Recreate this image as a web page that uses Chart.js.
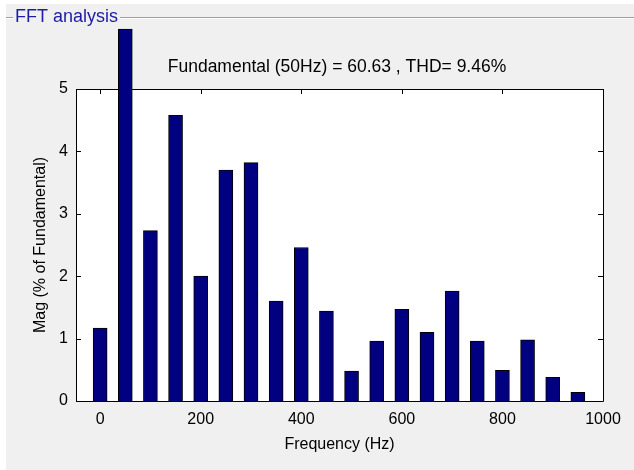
<!DOCTYPE html>
<html>
<head>
<meta charset="utf-8">
<script src="https://cdn.jsdelivr.net/npm/chart.js@4"></script>
<style>
  html, body { margin: 0; padding: 0; background: #ffffff; }
  canvas { display: block; }
</style>
</head>
<body>
<canvas id="myChart" width="634" height="470"></canvas>
<script>
// harmonic frequencies (Hz) and magnitudes (% of fundamental)
const freqs = [0, 50, 100, 150, 200, 250, 300, 350, 400, 450, 500, 550, 600, 650, 700, 750, 800, 850, 900, 950];
const mags = [1.17, 5.96, 2.73, 4.58, 2.0, 3.7, 3.82, 1.6, 2.46, 1.44, 0.48, 0.96, 1.47, 1.1, 1.76, 0.96, 0.49, 0.98, 0.38, 0.14];
const xTicks = [0, 200, 400, 600, 800, 1000];
const yTicks = [0, 1, 2, 3, 4, 5];
const panelTitle = 'FFT analysis';
const subTitle = 'Fundamental (50Hz) = 60.63 , THD= 9.46%';

const FONT = '"Liberation Sans", Arial, sans-serif';

// grey figure panel, its titled border and the text above the axes
const panelPlugin = {
  id: 'panel',
  beforeDraw(chart) {
    const ctx = chart.ctx;
    const w = chart.width, h = chart.height;
    ctx.save();
    ctx.fillStyle = '#ffffff';
    ctx.fillRect(0, 0, w, h);
    ctx.fillStyle = '#f0f0f0';
    ctx.fillRect(6, 4, w - 6, h - 4);

    ctx.font = '18px ' + FONT;
    ctx.textBaseline = 'middle';
    ctx.textAlign = 'left';
    const tw = ctx.measureText(panelTitle).width;
    ctx.lineWidth = 1;
    ctx.strokeStyle = '#a0a0a0';
    ctx.beginPath();
    ctx.moveTo(6, 17.5); ctx.lineTo(13, 17.5);
    ctx.moveTo(15 + tw + 2, 17.5); ctx.lineTo(w, 17.5);
    ctx.stroke();
    ctx.strokeStyle = '#ffffff';
    ctx.beginPath();
    ctx.moveTo(6, 18.5); ctx.lineTo(13, 18.5);
    ctx.moveTo(15 + tw + 2, 18.5); ctx.lineTo(w, 18.5);
    ctx.stroke();
    ctx.fillStyle = '#1c1ca4';
    ctx.fillText(panelTitle, 15, 17);

    ctx.fillStyle = '#000000';
    ctx.font = '17.5px ' + FONT;
    ctx.textAlign = 'center';
    ctx.fillText(subTitle, 337, 67);

    const a = chart.chartArea;
    ctx.fillStyle = '#ffffff';
    ctx.fillRect(a.left, a.top, a.right - a.left, a.bottom - a.top);
    ctx.restore();
  },
  beforeDatasetsDraw(chart) {
    const ctx = chart.ctx;
    const a = chart.chartArea;
    const xs = chart.scales.x, ys = chart.scales.y;
    ctx.save();
    ctx.strokeStyle = '#000000';
    ctx.lineWidth = 1;
    ctx.beginPath();
    ctx.rect(Math.round(a.left) + 0.5, Math.round(a.top) + 0.5, Math.round(a.right - a.left), Math.round(a.bottom - a.top));
    // inward tick marks on all four sides
    xs.ticks.forEach(t => {
      const px = Math.round(xs.getPixelForValue(t.value)) + 0.5;
      ctx.moveTo(px, a.top); ctx.lineTo(px, a.top + 5);
      ctx.moveTo(px, a.bottom); ctx.lineTo(px, a.bottom - 5);
    });
    ys.ticks.forEach(t => {
      const py = Math.round(ys.getPixelForValue(t.value)) + 0.5;
      ctx.moveTo(a.left, py); ctx.lineTo(a.left + 5, py);
      ctx.moveTo(a.right, py); ctx.lineTo(a.right - 5, py);
    });
    ctx.stroke();
    ctx.restore();
  }
};

const chartConfig = {
  type: 'bar',
  data: {
    datasets: [{
      data: freqs.map((f, i) => ({ x: f, y: mags[i] })),
      backgroundColor: '#000080',
      borderColor: '#000000',
      borderWidth: 1,
      barThickness: 14,
      clip: false
    }]
  },
  options: {
    responsive: false,
    animation: false,
    layout: { padding: { left: 6, right: 31, top: 89, bottom: 0 } },
    plugins: { legend: { display: false }, tooltip: { enabled: false } },
    scales: {
      x: {
        type: 'linear',
        offset: false,
        min: -48,
        max: 1000,
        grid: { display: false, drawTicks: false, offset: false },
        border: { display: false },
        afterBuildTicks: s => { s.ticks = xTicks.map(v => ({ value: v })); },
        afterFit: s => { s.height = 69; },
        ticks: { color: '#000000', font: { family: FONT, size: 16 }, padding: 9, maxRotation: 0, autoSkip: false, callback: v => String(v) },
        title: { display: true, text: 'Frequency (Hz)', color: '#000000', font: { family: FONT, size: 16 }, padding: { top: 0, bottom: 16 } }
      },
      y: {
        min: 0,
        max: 5,
        grid: { display: false, drawTicks: false },
        border: { display: false },
        afterBuildTicks: s => { s.ticks = yTicks.map(v => ({ value: v })); },
        afterFit: s => { s.width = 70; },
        ticks: { color: '#000000', font: { family: FONT, size: 16 }, padding: 8 },
        title: { display: true, text: 'Mag (% of Fundamental)', color: '#000000', font: { family: FONT, size: 16 }, padding: { top: 25, bottom: 0 } }
      }
    }
  },
  plugins: [panelPlugin]
};

const myChart = new Chart(document.getElementById('myChart'), chartConfig);
</script>
</body>
</html>
